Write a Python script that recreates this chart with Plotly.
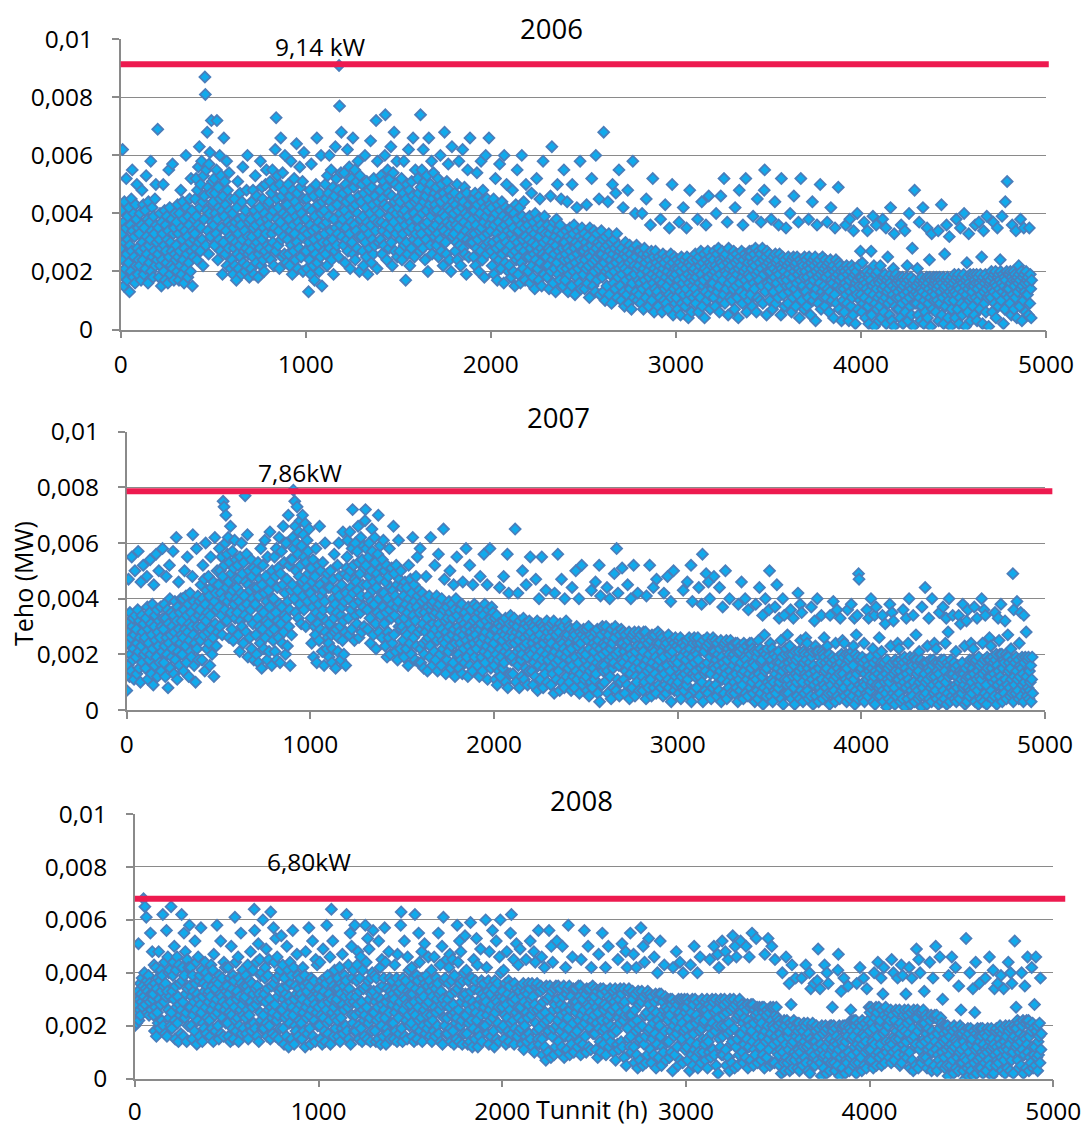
import plotly.graph_objects as go

# Power readings, one line per 100-hour block, values in 0.1 kW (1e-4 MW).
HOURS_PER_BLOCK = 100
SAMPLE_STEP = 2.5

P2006 = """
28 41 19 33 62 24 37 15 44 30 21 35 52 26 17 39 31 23 42 13 29 36 20 45 27 55 34 18 40 25 32 16 43 22 38 50 28 19 35 24
33 22 40 27 17 36 48 30 24 43 19 35 28 41 21 53 32 26 38 16 44 29 23 37 31 58 20 34 42 25 18 39 27 33 45 22 50 36 30 24
69 26 35 18 31 40 22 28 15 37 24 33 50 20 29 41 17 36 27 23 39 31 16 34 55 25 42 19 30 22 38 27 57 21 33 17 35 26 40 24
29 37 20 43 25 33 17 40 27 22 48 35 19 31 44 24 38 16 28 34 21 60 42 26 32 18 39 23 36 45 30 20 52 27 41 15 34 25 38 31
33 45 28 52 39 24 48 36 56 30 63 42 27 50 35 58 31 44 22 53 38 46 87 81 29 55 41 68 34 49 26 57 40 61 32 47 72 37 51 43
44 36 52 29 47 40 33 55 72 38 24 49 42 31 60 45 27 53 35 41 19 46 30 66 39 51 26 43 34 58 22 48 37 28 54 41 32 45 21 36
31 24 40 19 35 28 45 22 37 30 17 42 26 51 33 21 38 29 47 25 36 19 44 31 56 23 39 27 34 20 41 28 48 22 60 32 26 37 18 30
27 38 21 44 32 25 48 35 19 41 29 53 36 23 46 30 39 18 33 26 42 28 58 37 22 49 31 45 24 35 20 40 27 50 33 55 38 29 43 25
36 44 28 51 39 24 47 33 55 30 41 22 49 35 62 27 73 45 38 53 29 42 34 21 50 37 66 31 46 25 54 40 32 48 26 60 43 35 23 39
43 31 50 26 38 22 46 34 58 29 41 19 48 36 27 52 33 44 24 39 64 30 47 21 37 42 28 56 35 49 25 40 32 51 20 45 61 34 27 38
38 27 45 21 33 42 13 30 24 48 36 19 57 41 28 34 22 46 31 17 39 26 50 35 66 23 43 29 37 20 47 32 25 60 40 15 44 30 36 27
41 33 50 26 45 37 22 53 30 47 39 60 28 44 34 55 24 42 31 49 19 38 46 27 63 35 52 29 43 33 48 25 91 77 40 36 54 68 32 45
38 47 29 54 41 23 50 35 44 31 62 27 48 39 56 33 21 45 37 52 30 42 66 26 49 36 55 24 43 34 51 28 40 58 46 32 20 53 38 44
44 32 50 27 39 22 47 35 60 30 42 25 51 37 19 45 33 48 28 40 65 36 23 49 31 43 26 52 38 29 46 34 72 41 21 58 37 44 30 48
40 48 31 53 37 26 45 34 51 29 43 60 74 36 49 24 42 55 33 47 28 39 52 35 63 30 46 22 41 54 37 68 44 27 50 33 40 58 25 45
42 35 49 27 44 31 38 52 24 40 33 47 58 29 41 36 17 45 30 50 26 39 62 34 48 22 43 37 28 51 35 46 66 31 40 25 44 55 33 38
45 38 52 30 47 35 42 27 74 49 33 55 40 28 62 44 36 51 24 46 31 41 53 37 20 48 66 34 43 29 50 39 58 26 45 35 54 41 32 47
43 36 49 29 41 33 52 25 46 38 31 60 44 27 50 35 40 22 47 34 68 39 30 45 26 51 37 42 57 33 48 24 41 36 20 46 63 32 44 38
40 33 47 27 43 36 30 50 24 41 35 58 45 29 38 22 46 32 42 62 28 44 37 49 26 40 34 19 47 31 55 39 25 43 36 66 30 45 33 41
38 30 45 25 41 33 47 22 36 28 54 43 31 39 20 46 34 40 27 58 35 44 24 48 32 37 18 42 29 60 39 26 45 33 41 30 66 36 43 28
34 27 42 22 38 30 45 19 36 25 52 40 28 33 17 43 31 37 24 57 29 41 21 35 44 26 39 32 16 60 36 23 42 30 50 27 38 34 20 41
22 37 29 41 18 33 26 48 35 20 40 31 15 27 43 24 38 55 30 19 34 25 42 28 16 36 23 60 39 31 21 44 27 35 17 32 50 25 38 29
36 20 31 25 39 16 28 34 47 22 30 18 37 26 33 14 40 24 29 52 35 21 27 38 17 32 45 23 36 28 15 34 26 58 30 19 39 25 33 22
25 31 18 36 22 28 14 33 27 46 20 35 63 24 30 16 37 26 21 32 13 29 38 23 50 34 19 27 31 17 36 25 45 21 33 28 15 30 55 24
30 17 26 34 21 44 28 13 32 24 19 35 27 22 31 15 50 25 33 20 36 28 12 23 30 18 42 26 34 21 29 16 32 58 24 14 27 35 22 31
19 27 33 14 24 30 21 43 28 16 32 22 26 11 35 25 18 29 52 23 31 15 27 34 20 24 13 60 28 33 17 25 30 21 45 26 12 29 22 34
26 18 31 13 68 23 28 10 32 20 25 15 29 44 21 33 12 27 19 24 30 9 22 50 26 16 31 20 28 14 47 23 33 11 25 18 29 55 21 27
15 24 10 28 19 22 42 13 26 8 21 30 17 25 12 27 48 20 9 23 29 14 26 18 7 24 16 58 28 11 22 19 40 25 13 29 21 10 27 17
22 12 27 16 9 24 19 40 14 26 7 21 28 17 23 11 45 25 15 20 26 8 18 24 13 36 22 27 10 19 52 16 25 6 21 14 27 18 23 12
13 20 8 25 17 22 11 38 19 24 6 16 26 21 10 23 14 43 18 9 25 15 20 7 24 12 35 22 17 26 11 19 50 23 5 18 14 25 21 9
19 11 24 15 7 21 17 37 23 13 5 20 25 9 22 16 42 12 18 24 8 21 14 35 25 10 19 4 23 16 48 12 22 18 6 24 15 20 11 17
21 14 26 9 18 24 12 38 20 6 25 16 22 11 27 19 44 8 23 15 17 26 4 21 13 36 24 10 20 27 18 46 12 23 7 25 16 22 19 14
16 24 11 27 20 8 22 40 18 26 13 21 28 15 6 24 19 46 23 10 27 17 22 12 52 25 9 20 26 14 19 37 23 5 28 16 21 11 24 18
22 10 25 17 14 27 20 7 42 23 15 26 19 11 24 4 21 48 16 25 13 22 27 18 9 36 24 20 12 26 17 52 21 6 25 15 23 19 10 27
18 25 12 27 21 8 23 39 16 26 14 22 28 19 6 24 45 11 20 27 17 23 10 26 37 21 15 28 9 24 19 48 55 13 25 22 5 27 16 20
23 15 26 10 20 24 38 17 22 7 25 13 21 18 44 26 9 23 16 20 24 11 36 19 26 14 22 5 52 21 17 25 12 23 20 8 24 18 35 15
17 22 9 25 19 13 23 40 15 21 6 24 18 11 25 46 20 14 22 8 23 16 25 12 19 37 21 4 24 17 52 20 10 23 15 22 18 7 25 13
20 13 24 8 18 22 11 38 25 16 21 5 23 15 19 44 10 24 17 22 12 25 3 20 14 36 23 18 9 21 24 16 50 19 7 22 13 25 20 11
15 21 8 24 18 11 22 37 14 20 23 6 19 13 24 42 17 10 21 16 22 4 20 12 35 18 24 9 21 15 19 49 23 7 17 22 14 20 3 18
18 10 21 14 6 20 16 36 12 22 9 19 15 21 3 17 38 13 20 8 22 11 18 5 34 21 14 19 2 16 20 12 40 17 7 22 15 18 10 27
12 18 6 23 15 9 17 37 11 19 4 16 14 20 34 8 18 2 13 19 10 17 27 5 20 15 39 12 22 1 16 9 19 36 14 7 20 11 17 3
16 8 22 12 4 17 14 38 10 18 6 15 19 11 35 2 17 13 25 9 18 14 5 16 42 19 10 3 15 12 21 1 33 18 8 14 19 11 16 7
13 17 7 18 11 4 16 36 14 9 18 2 15 12 17 34 6 16 10 18 22 13 3 17 40 11 15 8 18 5 14 28 16 1 12 17 48 9 15 13
15 9 21 12 5 16 37 11 17 3 14 18 8 13 42 16 2 10 17 6 15 12 18 35 4 16 9 14 24 18 11 1 17 33 13 7 15 18 10 16
12 17 6 18 14 10 16 34 3 15 18 9 13 17 43 5 16 11 18 2 14 26 15 8 17 36 12 18 4 16 10 32 13 17 1 15 7 18 12 14
16 10 19 13 4 17 38 12 18 7 15 19 2 14 11 35 17 9 18 5 16 13 19 40 8 15 1 17 12 23 18 6 14 33 16 10 19 3 15 11
13 18 8 19 15 5 17 36 11 16 19 3 14 18 10 37 16 7 19 12 15 25 17 2 18 34 13 9 16 19 6 14 39 17 11 18 1 15 12 16
17 11 20 14 6 18 37 13 19 9 16 20 4 15 12 35 18 8 19 14 17 24 20 10 16 39 13 19 2 15 18 7 44 17 12 20 51 14 19 11
14 19 9 20 16 5 18 36 12 17 20 7 15 19 11 34 17 4 18 13 16 22 19 8 17 38 14 20 3 15 18 10 35 19 13 16 6 20 12 17
12 18 5 16 35 9 19 14 4 17
"""

P2007 = """
7 24 31 16 47 28 12 35 20 26 14 55 30 18 33 22 11 27 50 34 19 29 13 24 36 57 21 15 32 26 10 46 23 34 17 28 52 31 20 25
26 15 33 21 48 37 11 29 24 18 35 54 20 31 13 27 38 22 9 45 30 16 34 25 56 19 36 12 28 23 50 32 17 26 37 14 30 21 58 33
29 17 38 23 12 33 48 26 20 36 8 31 24 52 40 15 27 35 19 30 22 57 34 13 28 39 18 25 62 32 11 37 21 46 29 16 35 24 40 27
32 20 40 26 14 36 50 29 23 41 17 34 55 28 38 12 31 25 42 21 35 19 30 48 63 27 39 16 33 24 10 37 58 22 30 41 18 34 26 39
36 25 45 30 18 40 52 33 27 47 14 38 60 32 43 22 35 28 48 24 41 16 34 55 29 44 20 37 26 46 12 39 62 31 42 23 36 50 28 45
45 37 58 30 50 42 34 55 27 48 75 40 73 52 36 60 70 44 32 56 39 62 46 26 53 41 66 35 49 29 57 43 25 51 38 61 33 47 54 40
44 35 52 27 47 39 21 55 32 42 60 30 49 37 24 53 41 34 77 46 28 56 38 63 19 45 33 50 26 43 36 54 22 48 40 31 51 18 44 38
38 27 50 20 44 33 53 17 41 30 47 24 58 36 15 45 29 52 35 22 42 61 26 48 32 39 18 55 31 43 21 37 64 28 46 34 16 50 40 25
40 29 55 21 48 35 58 18 44 32 51 26 62 38 17 49 31 57 37 24 45 66 28 53 34 42 20 60 33 47 23 39 70 30 52 36 16 54 43 27
54 45 62 79 58 40 75 66 35 50 60 73 43 56 33 64 48 38 68 52 31 59 46 70 41 63 36 55 47 67 30 53 44 61 39 57 49 65 42 51
42 33 51 24 46 37 54 19 40 30 48 27 58 35 17 44 31 52 38 25 66 45 29 50 34 41 21 53 36 43 16 39 60 28 47 32 22 49 26 44
24 19 31 44 50 36 27 17 22 40 47 33 56 28 38 15 43 29 35 52 21 26 60 41 48 30 18 34 45 37 25 64 32 20 39 49 28 16 42 51
55 61 48 33 40 27 64 50 44 36 29 58 72 42 52 38 25 47 60 34 46 31 57 43 66 53 26 39 49 35 62 41 28 54 45 37 59 30 51 68
72 52 58 45 36 29 41 55 60 48 33 24 39 50 65 57 43 27 46 38 62 53 31 22 44 49 35 56 70 40 28 47 59 34 51 42 26 54 37 61
42 31 50 23 46 35 52 19 40 28 48 26 58 36 20 44 33 51 38 24 43 66 27 49 34 41 21 52 37 45 18 39 61 30 47 32 22 50 29 44
30 36 25 41 19 33 46 28 38 22 44 27 35 16 52 40 31 24 47 37 20 42 29 62 34 26 45 39 18 32 48 23 37 55 41 28 17 43 35 58
22 17 29 39 42 31 24 15 20 35 40 28 48 25 33 14 37 26 30 41 19 23 62 36 38 27 16 31 39 34 21 52 29 18 35 41 25 14 37 56
31 38 27 20 34 16 40 29 25 22 65 36 47 24 32 13 28 37 18 33 26 21 39 30 50 35 15 23 38 27 33 17 45 29 36 12 24 40 20 55
34 26 30 20 15 28 36 24 18 32 38 13 46 27 22 31 17 35 29 58 25 19 33 12 37 23 30 52 16 28 36 21 26 14 45 32 24 38 19 29
27 33 22 37 16 30 25 35 12 29 48 24 31 19 36 14 34 26 56 21 38 17 28 32 23 45 11 36 20 30 25 58 33 15 27 37 22 18 35 29
24 16 33 11 29 20 34 9 26 18 31 14 44 22 12 30 19 28 25 15 32 48 17 27 21 33 10 29 23 56 8 26 42 20 31 13 34 24 18 28
19 13 26 31 33 24 65 17 10 28 30 21 42 16 25 8 32 22 27 18 12 20 50 29 33 23 11 26 31 15 45 24 19 9 30 27 14 32 21 55
28 20 31 14 24 9 30 17 26 22 12 47 29 19 32 7 25 16 40 23 27 11 31 21 55 18 30 8 24 15 29 13 26 43 20 32 10 28 18 25
30 22 26 15 9 24 31 19 13 28 32 6 42 21 17 27 11 29 23 56 18 14 28 7 31 20 25 47 10 24 30 16 22 8 40 27 19 32 12 26
21 27 15 30 10 24 18 29 7 22 44 16 26 12 28 8 27 19 50 14 30 11 23 25 17 40 6 28 13 24 20 52 27 9 21 29 15 11 26 18
20 12 29 7 25 16 30 5 22 14 27 10 43 18 8 26 15 24 21 11 28 46 13 23 17 29 6 25 19 52 3 22 41 16 27 9 30 20 14 24
16 10 23 28 30 21 44 14 6 25 27 18 40 12 22 4 29 19 24 15 8 17 49 26 30 20 7 58 28 11 42 21 16 5 27 24 10 29 18 51
24 17 28 11 21 6 27 14 23 19 9 45 25 16 28 4 22 13 40 20 26 8 27 18 52 15 28 5 21 12 25 10 23 42 17 28 7 26 15 22
27 19 23 12 7 21 28 16 10 25 28 4 41 18 14 24 8 26 20 52 15 11 25 5 27 17 22 44 8 21 27 13 19 6 47 24 16 28 9 23
18 24 12 27 8 21 15 26 5 19 42 13 23 9 25 6 24 16 48 11 27 8 20 22 14 39 3 25 10 21 17 50 24 7 18 26 12 9 23 15
17 10 25 6 22 13 26 4 19 12 24 8 43 15 7 23 13 21 18 9 25 46 11 20 14 26 5 22 16 52 3 19 39 13 24 7 26 17 12 21
14 8 20 24 26 18 44 12 5 22 24 15 38 10 56 3 25 16 21 13 7 14 49 23 26 17 6 46 24 9 40 19 13 4 25 21 8 26 16 48
21 15 25 9 18 5 24 12 20 16 7 44 22 14 25 3 19 11 37 17 23 6 24 15 50 13 25 4 18 10 22 8 20 40 14 25 6 23 12 19
23 16 20 10 6 18 24 13 8 21 24 3 38 15 11 21 7 23 17 46 13 9 22 4 24 14 19 40 6 18 23 11 16 5 36 21 13 24 8 20
15 24 10 22 6 17 12 21 3 16 38 11 19 7 21 4 25 13 44 9 22 6 17 18 12 34 2 21 8 27 14 40 20 5 15 22 10 7 19 36
50 9 24 5 18 11 22 3 16 10 20 7 37 13 6 19 45 17 15 8 21 33 10 17 12 25 4 19 14 40 2 16 34 11 20 6 22 15 9 27
11 6 17 20 23 15 36 9 4 18 20 12 33 8 16 2 21 13 18 10 5 12 42 19 21 14 4 38 25 7 35 15 10 3 21 17 6 20 13 26
18 12 24 7 15 4 20 10 17 13 5 37 19 11 21 2 16 9 32 14 23 5 21 12 40 10 21 3 15 8 19 6 17 34 11 21 4 20 9 26
19 14 17 8 5 15 23 11 6 18 20 2 34 12 9 17 6 19 14 39 11 7 18 3 24 12 16 36 5 15 19 9 13 4 33 17 10 20 7 25
13 19 8 24 5 16 11 20 3 15 36 10 18 6 20 4 19 12 38 8 21 5 16 23 11 33 2 20 7 27 13 34 19 4 49 47 9 6 18 14
15 8 19 4 17 10 24 3 13 9 18 6 36 11 5 16 33 14 12 7 19 40 9 15 10 22 3 17 12 34 2 14 37 9 18 5 20 13 8 26
9 5 15 17 21 12 34 7 3 16 17 10 31 6 13 1 18 11 15 8 4 10 38 16 23 12 3 35 17 6 32 13 8 2 18 14 5 17 11 24
17 11 22 6 14 3 18 9 16 12 4 36 17 10 19 1 15 8 33 13 18 4 24 11 40 9 19 2 14 7 17 5 16 34 10 19 3 18 8 27
18 13 16 7 4 14 21 10 5 17 18 1 37 11 8 16 5 17 13 44 10 6 17 2 23 11 15 33 4 14 18 8 12 3 40 16 9 18 6 24
12 17 7 22 4 14 10 17 2 13 35 9 16 5 18 3 17 11 37 7 18 4 14 24 10 33 2 17 6 28 12 40 16 3 13 18 8 5 15 34
13 7 17 4 15 9 21 3 12 8 16 5 34 10 4 14 31 13 11 6 17 38 8 13 9 23 2 15 11 32 3 12 36 8 16 5 18 12 7 24
10 6 15 18 22 13 37 8 3 17 18 11 33 7 14 2 19 12 16 9 4 11 40 17 24 13 3 36 18 6 34 14 9 2 19 15 5 18 12 26
18 12 23 7 15 4 19 10 17 13 5 35 18 11 20 2 16 9 33 14 25 5 20 12 38 10 20 3 15 8 18 6 17 32 11 20 4 19 9 27
19 14 17 8 5 15 22 11 6 18 49 3 36 12 9 17 6 19 14 39 11 7 18 4 24 12 16 35 5 15 19 9 13 3 34 17 10 19 7 28
12 5 18 8 19 4 14 7 10 16 3 11 19 6
"""

P2008 = """
20 27 23 31 21 28 25 33 51 22 30 26 36 24 32 29 38 27 35 68 31 40 65 28 34 61 37 25 33 30 39 24 36 29 55 32 26 35 48 30
32 24 43 18 36 27 42 16 34 25 38 21 48 30 19 37 28 41 33 22 39 62 20 35 29 44 17 36 31 56 16 33 46 26 40 23 41 31 20 65
25 19 33 39 44 30 50 22 15 35 41 27 46 21 31 14 43 28 36 24 17 26 62 37 42 29 16 55 39 23 48 32 25 14 45 34 20 42 27 58
35 27 42 20 31 15 39 24 33 29 18 52 36 26 44 13 32 22 46 30 37 16 39 28 57 25 41 14 31 21 36 19 33 44 27 40 17 35 23 32
38 29 33 22 16 31 43 26 19 35 41 14 47 28 24 34 18 37 30 58 25 20 36 15 39 27 32 52 17 31 38 23 29 16 44 34 26 42 21 33
28 35 21 42 16 32 25 38 14 29 50 24 34 19 39 15 37 27 61 22 44 18 30 33 23 46 14 38 20 31 26 55 36 17 28 41 24 19 35 30
31 23 39 17 35 26 43 15 33 24 37 20 48 29 18 36 27 41 32 21 64 56 19 34 28 44 16 35 30 51 14 32 45 25 39 22 40 30 19 60
24 19 32 38 42 29 49 21 16 34 39 26 45 20 30 15 63 27 35 23 17 25 57 36 44 28 16 53 38 22 46 31 24 15 39 33 19 41 26 54
34 26 43 19 30 13 38 23 32 28 16 50 35 24 41 12 31 21 44 29 36 15 39 27 56 24 42 13 30 20 35 18 32 47 26 39 16 34 22 31
38 28 32 21 15 30 42 25 18 35 39 12 48 27 23 33 17 36 29 57 24 19 35 13 38 26 31 52 16 30 37 22 28 14 45 33 25 43 20 32
27 34 20 44 15 31 24 37 13 28 49 23 33 18 38 14 36 26 58 21 39 17 29 32 22 46 13 37 64 30 25 52 35 16 27 41 23 19 34 29
30 22 38 16 34 25 42 14 32 23 36 19 47 28 17 35 26 39 31 20 37 62 18 33 27 43 15 34 29 55 13 31 50 24 38 21 41 29 18 58
24 18 31 37 43 28 48 20 15 33 38 25 46 19 29 14 41 26 34 22 16 24 58 35 44 27 15 53 37 21 49 30 23 14 38 32 18 40 25 56
33 25 39 18 29 14 38 22 31 27 15 52 34 23 42 13 30 20 45 28 35 16 38 26 57 23 44 13 29 19 34 17 31 48 25 38 15 33 21 30
37 28 32 21 15 30 43 25 18 34 38 14 47 27 23 33 17 36 29 58 63 19 34 14 38 26 31 52 16 30 37 22 28 15 46 33 24 41 20 32
28 35 21 42 16 32 25 38 14 29 62 24 34 19 39 15 37 27 55 22 44 18 30 33 23 48 14 38 20 31 26 51 36 17 28 39 24 19 35 46
29 21 37 16 33 24 41 14 31 22 35 18 46 27 16 34 25 38 30 20 36 55 17 32 26 43 14 33 28 50 13 30 61 23 37 20 38 28 17 45
23 17 30 36 42 27 47 19 14 32 37 24 45 18 28 13 39 25 33 21 15 23 58 34 44 26 14 52 36 20 48 29 22 13 37 31 17 40 24 54
32 24 41 17 28 13 37 21 30 26 14 59 33 22 38 12 29 19 45 27 34 15 37 25 53 22 43 12 28 18 33 16 30 49 24 37 14 32 20 29
36 27 31 20 60 29 42 24 17 33 37 13 48 26 22 32 16 35 28 56 23 18 34 12 37 25 30 52 15 29 36 21 27 14 46 32 60 40 19 31
27 33 20 41 15 30 24 36 13 28 48 23 32 18 37 14 35 26 55 21 62 17 29 31 22 45 13 36 19 30 25 51 34 16 27 43 23 18 33 49
27 19 35 13 31 22 36 11 29 20 33 16 45 25 14 32 23 36 28 17 34 52 15 30 24 36 12 31 26 48 10 28 44 21 35 18 36 26 15 56
19 13 27 33 35 24 46 15 9 29 34 21 42 12 25 7 35 22 30 17 10 18 56 31 35 23 8 50 33 16 44 26 19 9 34 28 12 35 20 52
30 22 35 14 26 10 34 18 28 24 12 50 31 20 35 8 27 16 42 25 32 11 34 23 58 19 35 9 26 15 31 13 28 46 21 34 10 29 17 27
34 25 29 18 12 27 35 22 14 31 35 9 45 24 20 30 13 33 26 56 21 16 32 10 34 23 28 50 12 27 34 19 25 11 42 30 22 35 17 29
24 31 17 34 11 27 21 33 8 25 47 19 29 14 34 10 32 22 55 18 34 13 26 28 19 42 9 33 16 27 22 50 31 12 24 34 20 14 30 26
26 17 33 10 29 19 34 7 27 18 31 13 45 23 11 30 21 34 25 14 32 51 12 28 22 34 8 29 24 48 5 26 42 19 33 15 34 24 12 55
16 10 24 30 33 21 47 12 6 26 32 18 42 9 22 4 33 19 28 14 7 15 57 29 33 20 5 50 31 13 44 24 16 6 32 25 9 33 18 53
28 19 32 11 23 6 31 15 26 21 9 46 29 17 32 4 25 13 40 22 30 8 32 20 52 16 32 5 24 12 29 10 26 43 18 31 7 27 14 24
30 22 26 14 8 24 30 18 10 28 30 3 42 20 16 26 9 29 22 48 17 12 28 5 30 19 25 44 7 23 30 15 21 6 40 27 18 30 11 25
19 27 12 30 7 23 16 29 3 20 43 14 25 9 30 5 28 17 50 11 30 8 21 24 13 40 4 29 10 22 18 46 27 6 19 30 15 10 26 21
22 13 29 7 26 15 30 4 24 14 28 10 45 19 8 27 17 30 21 11 29 50 9 25 18 30 5 26 20 47 2 23 42 15 29 12 30 20 9 52
16 9 24 28 30 20 48 11 5 25 29 17 45 8 21 3 30 18 26 13 6 14 54 27 30 19 4 50 28 12 46 23 15 5 29 24 9 30 17 52
25 17 28 10 21 6 27 13 23 19 8 50 26 15 28 4 22 12 46 20 27 7 28 18 55 14 28 5 21 11 26 9 24 53 16 27 6 25 13 22
27 19 23 12 7 21 27 16 9 25 27 4 47 18 14 24 8 26 20 53 15 11 25 5 27 17 22 50 6 20 27 13 19 6 45 24 16 27 10 23
14 20 9 22 5 17 11 21 2 15 40 10 19 6 22 3 20 13 46 8 22 6 16 18 11 36 3 21 7 28 13 43 20 4 14 22 10 7 19 38
16 9 21 4 18 11 21 3 15 10 19 7 38 13 5 18 12 21 14 8 20 43 6 16 12 21 3 17 13 40 2 15 34 10 20 6 21 14 8 36
9 5 14 18 20 12 37 7 49 16 19 10 34 6 13 1 20 11 17 8 4 9 43 18 20 12 2 40 19 7 36 14 9 3 20 15 6 20 11 27
18 12 20 6 14 3 19 9 16 13 5 41 47 11 20 1 15 8 33 14 19 4 20 12 38 9 20 2 14 7 18 6 16 35 10 20 3 19 8 26
22 15 18 9 5 16 22 12 6 20 22 2 36 13 10 18 6 21 15 42 12 8 20 3 22 13 17 38 5 16 21 10 14 4 34 19 11 22 7 27
18 25 11 27 7 21 14 26 4 19 40 13 23 9 27 5 25 16 44 10 27 8 20 22 13 38 5 26 9 32 17 42 24 6 18 27 14 10 23 20
20 12 25 8 22 14 26 6 45 13 24 10 40 16 7 22 15 26 18 11 25 38 9 20 15 26 5 21 17 43 6 19 39 13 24 9 26 18 11 32
14 8 21 24 26 17 42 10 4 22 25 15 38 7 19 3 26 16 23 12 5 13 49 23 26 18 4 45 25 11 40 20 13 6 25 21 8 26 15 33
21 14 24 8 17 4 23 11 19 15 6 44 22 12 24 3 18 10 38 16 23 5 24 14 50 11 24 3 17 9 22 7 19 46 13 23 5 21 10 30
20 14 17 8 4 15 20 11 5 18 20 1 39 12 9 16 5 19 13 46 11 7 18 2 20 12 15 42 4 14 19 8 13 3 35 17 10 20 6 26
11 17 6 19 3 14 8 18 0 12 53 7 16 4 19 1 17 10 40 5 19 3 13 15 8 34 1 18 6 25 11 44 17 2 12 19 7 4 16 36
14 8 19 4 16 10 19 2 13 9 17 6 38 11 3 16 10 19 12 7 18 46 5 14 11 19 1 15 12 41 2 13 34 9 18 5 19 12 7 36
10 6 15 18 20 13 39 8 3 17 19 11 34 7 14 2 20 12 16 9 4 11 44 18 20 13 3 40 19 7 36 15 10 2 20 16 52 19 12 27
19 13 22 7 15 4 21 10 17 14 5 40 20 11 22 2 16 9 35 15 21 4 22 13 46 10 22 3 16 8 20 6 18 42 12 21 4 19 9 28
12 5 46 18 8 20 3 14 9 16 21 6 38 11 17
"""

YEARS = ["2006", "2007", "2008"]
READINGS = [P2006, P2007, P2008]
PEAK_MW = [0.00914, 0.00786, 0.00680]
PEAK_LABELS = ["9,14 kW", "7,86kW", "6,80kW"]
PEAK_LABEL_POS = [(1080, 0.00974), (945, 0.00852), (950, 0.00819)]
X_TICKS = [0, 1000, 2000, 3000, 4000, 5000]
Y_TICKS = [0, 0.002, 0.004, 0.006, 0.008, 0.01]
Y_TICK_TEXT = ["0", "0,002", "0,004", "0,006", "0,008", "0,01"]


def parse_readings(text):
    hours, mw = [], []
    for block, line in enumerate(text.strip().splitlines()):
        for k, v in enumerate(line.split()):
            hours.append(block * HOURS_PER_BLOCK + k * SAMPLE_STEP)
            mw.append(int(v) / 10000)
    return hours, mw


W, H = 1081, 1127
FONT = "Open Sans, Noto Sans, sans-serif"
GRID = "#8a8a8a"

# Plot-area placement of each panel in pixels: (left, right, top, bottom)
PANELS = [(120.7, 1046, 39.3, 329.5), (126.7, 1045, 431.7, 710), (134.8, 1053.3, 814, 1078.7)]
TITLE_POS = [(551, 28), (558, 418), (581, 800)]
X_LABEL_STANDOFF = [5, 5, 3]

fig = go.Figure()
layout = dict(
    width=W, height=H, margin=dict(l=0, r=0, t=0, b=0),
    paper_bgcolor="white", plot_bgcolor="white", showlegend=False,
    font=dict(family=FONT, size=24.5, color="black"),
)
annotations = []
shapes = []

for i, (year, text) in enumerate(zip(YEARS, READINGS)):
    n = "" if i == 0 else str(i + 1)
    xa, ya = "x" + n, "y" + n
    hours, mw = parse_readings(text)
    fig.add_trace(go.Scatter(
        x=hours, y=mw, mode="markers", xaxis=xa, yaxis=ya,
        marker=dict(symbol="diamond", size=8.4, color="#10aaec",
                    line=dict(color="#4a7ebb", width=1.8)),
        hoverinfo="skip",
    ))
    shapes.append(dict(type="line", xref=xa + " domain", yref=ya,
                       x0=0, x1=1.003 + 0.005 * i, y0=PEAK_MW[i], y1=PEAK_MW[i],
                       line=dict(color="#ed1a4f", width=6), layer="above"))
    lx, ly = PEAK_LABEL_POS[i]
    annotations.append(dict(x=lx, y=ly, xref=xa, yref=ya, text=PEAK_LABELS[i],
                            xanchor="center", yanchor="middle",
                            showarrow=False, font=dict(size=24.5)))
    tx, ty = TITLE_POS[i]
    annotations.append(dict(x=tx / W, y=1 - ty / H, xref="paper", yref="paper",
                            text=year, xanchor="center", yanchor="middle",
                            showarrow=False, font=dict(size=27.5)))

    left, right, top, bottom = PANELS[i]
    layout["xaxis" + n] = dict(
        domain=[left / W, right / W], anchor=ya, range=[0, 5000],
        tickvals=X_TICKS, ticktext=[str(v) for v in X_TICKS],
        showgrid=False, zeroline=False, showline=True, linecolor=GRID, linewidth=1.5,
        ticks="outside", ticklen=7, tickcolor=GRID, tickwidth=1.5,
        ticklabelstandoff=X_LABEL_STANDOFF[i], ticklabeloverflow="allow",
        automargin=False, fixedrange=True,
    )
    layout["yaxis" + n] = dict(
        domain=[1 - bottom / H, 1 - top / H], anchor=xa, range=[0, 0.01],
        tickvals=Y_TICKS, ticktext=Y_TICK_TEXT,
        showgrid=True, gridcolor=GRID, gridwidth=1.3, zeroline=False,
        showline=True, linecolor=GRID, linewidth=1.5,
        ticks="outside", ticklen=7, tickcolor=GRID, tickwidth=1.5,
        ticklabelstandoff=14, ticklabeloverflow="allow",
        automargin=False, fixedrange=True,
    )

annotations.append(dict(x=22.5 / W, y=1 - 583.5 / H, xref="paper", yref="paper",
                        text="Teho (MW)", textangle=-90, xanchor="center",
                        yanchor="middle", showarrow=False, font=dict(size=25)))
annotations.append(dict(x=592 / W, y=1 - 1109 / H, xref="paper", yref="paper",
                        text="Tunnit (h)", xanchor="center", yanchor="middle",
                        showarrow=False, font=dict(size=25)))

layout["annotations"] = annotations
layout["shapes"] = shapes
fig.update_layout(**layout)
fig.write_html("out.html")
